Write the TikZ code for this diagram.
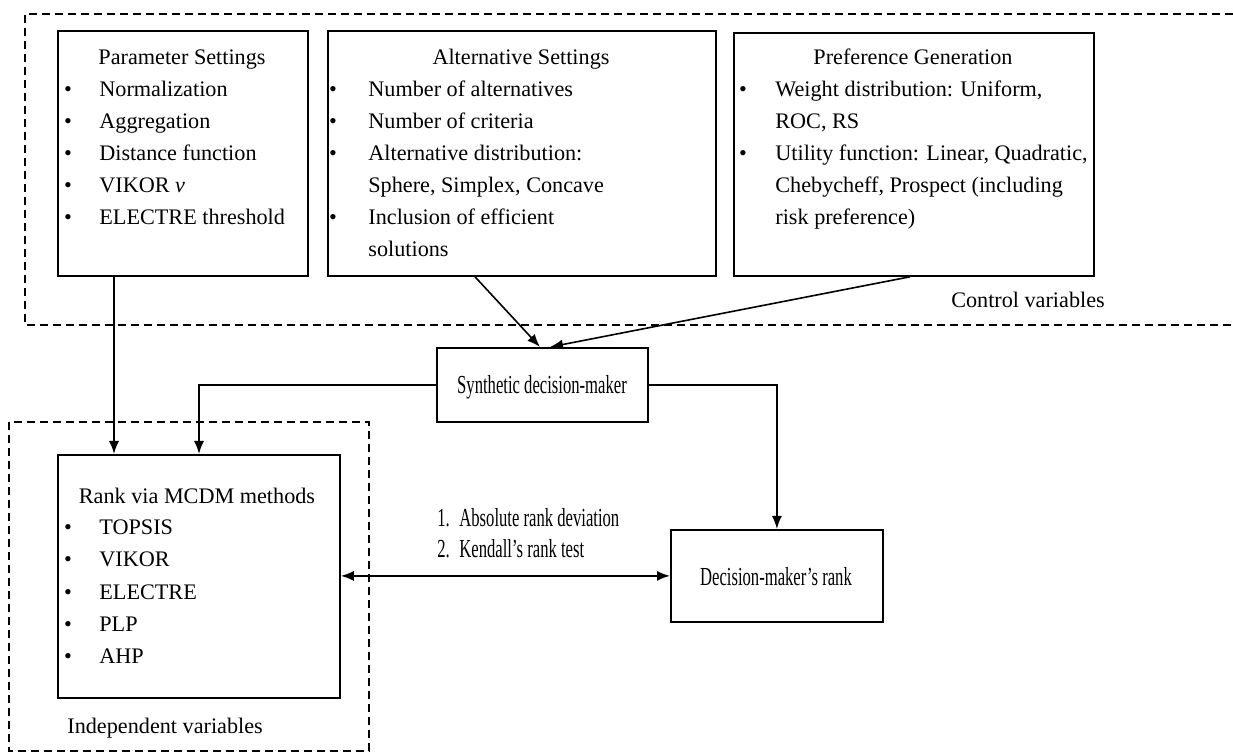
\documentclass[tikz,border=0pt]{standalone}
\usepackage{fontspec}
\setmainfont{Liberation Serif}
\newfontfamily\narrowfont[FakeStretch=0.64]{Liberation Serif}
\usetikzlibrary{arrows.meta,positioning}

\begin{document}
\begin{tikzpicture}
        [x=0.5pt,y=-0.5pt,
          >={Latex[length=6.5pt,width=5pt]},
          every node/.style={inner sep=0pt,font=\fontsize{11.1}{16}\selectfont},
          box/.style={
            draw,
            line width=0.9pt,
            anchor=north west},
          group/.style={
            draw,
            dashed,
            line width=0.7pt,
            dash pattern=on 4pt off 2.5pt},
          ttl/.style={anchor=base},
          itm/.style={anchor=base west},
          mid/.style={anchor=base,font=\fontsize{13}{16}\narrowfont},
          arr/.style={
            line width=0.8pt,
            ->}]
        \useasboundingbox (0,0) rectangle (1233,754);

        % control variables
        \draw[group] (1233,14) -- (25,14) -- (25,325) -- (1233,325);
        \node[ttl] (ctrl) at (1028,308) {Control variables};

        \node[box, minimum width=125pt, minimum height=122.5pt] (pset) at (57,30) {};
        \node[ttl] (pset-t) at (182,65) {Parameter Settings};
        \foreach \t [count=\i] in {Normalization, Aggregation, Distance function,
            VIKOR \textit{v}, ELECTRE threshold}
          {\node[ttl] (pset-b\i) at (68,{65+32*\i}) {\textbullet};
           \node[itm] (pset-\i) at (99,{65+32*\i}) {\t};}

        \node[box, minimum width=194pt, minimum height=122.5pt] (alt) at (327,30) {};
        \node[ttl] (alt-t) at (521,65) {Alternative Settings};
        \foreach \b/\t [count=\i] in {1/Number of alternatives, 1/Number of criteria,
            1/Alternative distribution:, 0/{Sphere, Simplex, Concave},
            1/Inclusion of efficient, 0/solutions}
          {\ifnum\b=1 \node[ttl] (alt-b\i) at (333,{65+32*\i}) {\textbullet};\fi
           \node[itm] (alt-\i) at (368,{65+32*\i}) {\t};}

        \node[box, minimum width=180pt, minimum height=121.5pt] (pref) at (733,32) {};
        \node[ttl] (pref-t) at (913,65) {Preference Generation};
        \foreach \b/\t [count=\i] in {1/{Weight distribution: Uniform,}, 0/{ROC, RS},
            1/{Utility function: Linear, Quadratic,},
            0/{Chebycheff, Prospect (including}, 0/risk preference)}
          {\ifnum\b=1 \node[ttl] (pref-b\i) at (743,{65+32*\i}) {\textbullet};\fi
           \node[itm] (pref-\i) at (775,{65+32*\i}) {\t};}

        % decision-maker
        \node[box, minimum width=105.5pt, minimum height=37pt] (synth) at (436,347) {};
        \node[mid] (synth-t) at (542,394) {Synthetic decision-maker};

        \node[box, minimum width=106pt, minimum height=46pt] (dm) at (670,529) {};
        \node[mid] (dm-t) at (776,585) {Decision-maker’s rank};

        % independent variables
        \draw[group] (9,422) rectangle (369,751);
        \node[itm] (indep) at (67,733) {Independent variables};

        \node[box, minimum width=141pt, minimum height=121.5pt] (rank) at (57,454) {};
        \node[ttl] (rank-t) at (197,503) {Rank via MCDM methods};
        \foreach \t [count=\i] in {TOPSIS, VIKOR, ELECTRE, PLP, AHP}
          {\node[ttl] (rank-b\i) at (68,{503+32*\i}) {\textbullet};
           \node[itm] (rank-\i) at (99,{503+32*\i}) {\t};}

        \node[mid, anchor=base west] (cmp-n1) at (437,526) {1.};
        \node[mid, anchor=base west] (cmp-1) at (459,526) {Absolute rank deviation};
        \node[mid, anchor=base west] (cmp-n2) at (437,558) {2.};
        \node[mid, anchor=base west] (cmp-2) at (459,558) {Kendall’s rank test};

        % connectors
        \draw[arr] ([xshift=28.5pt]pset.south west) -- ([xshift=28.5pt]rank.north west);
        \draw[arr] (synth.west) -| ([xshift=71pt]rank.north west);
        \draw[arr] ([xshift=74pt]alt.south west) -- ([xshift=52pt]synth.north west);
        \draw[arr] ([xshift=88.5pt]pref.south west) -- ([xshift=57pt]synth.north west);
        \draw[arr] (synth.east) -| (dm.north);
        \draw[arr, <->] (rank.east |- dm.west) -- (dm.west);
      \end{tikzpicture}
\end{document}
